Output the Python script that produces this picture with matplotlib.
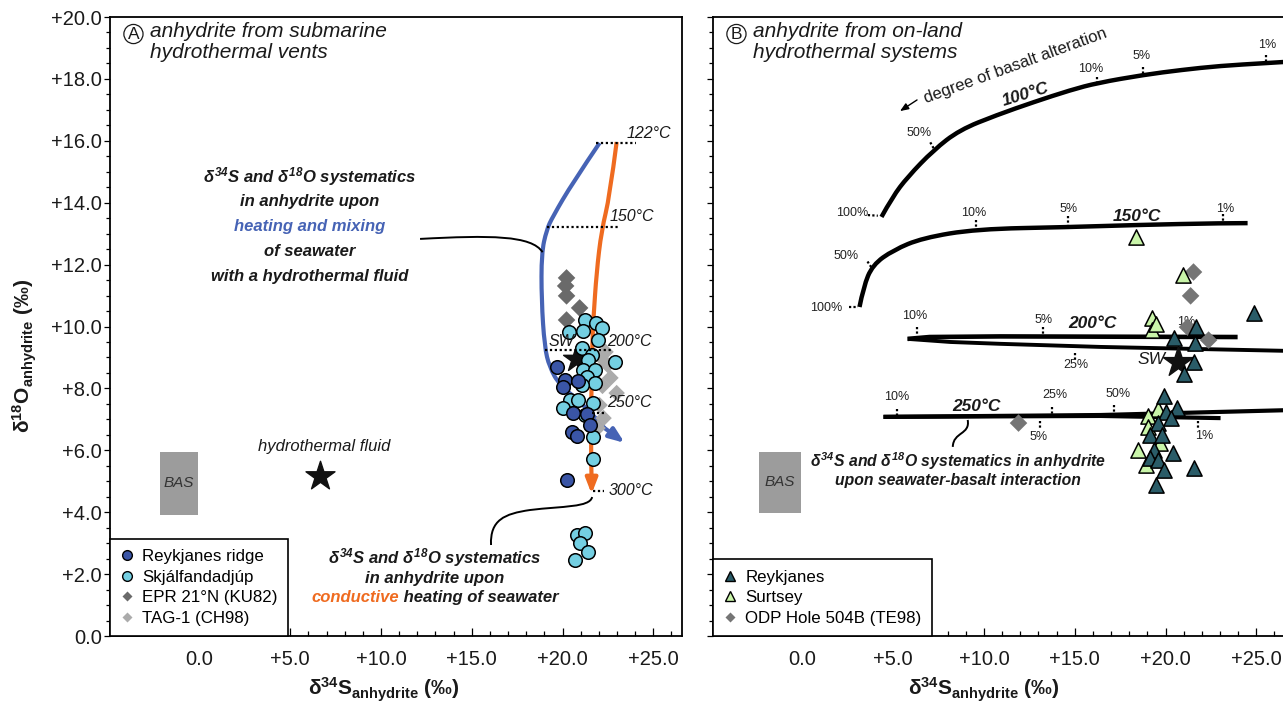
import matplotlib
matplotlib.use('Agg')
import matplotlib.pyplot as plt
from matplotlib.lines import Line2D
from matplotlib.path import Path
from matplotlib.patches import PathPatch, Rectangle
from matplotlib.ticker import FixedLocator, FuncFormatter, MultipleLocator

plt.rcParams['font.family'] = ['Liberation Sans', 'DejaVu Sans']
plt.rcParams['mathtext.fontset'] = 'custom'
plt.rcParams['mathtext.rm'] = 'Liberation Sans:bold:italic'
plt.rcParams['mathtext.it'] = 'Liberation Sans:bold:italic'
plt.rcParams['mathtext.bf'] = 'Liberation Sans:bold'

# ---------------- data : panel A ----------------
reyk_ridge_s = [19.72, 20.11, 20.83, 20.00, 20.55, 21.32, 21.49, 20.50, 20.77, 20.22]
reyk_ridge_o = [8.69, 8.27, 8.24, 8.05, 7.21, 7.17, 6.82, 6.59, 6.46, 5.04]
skjalf_s = [21.21, 21.87, 22.20, 20.33, 21.10, 21.93, 21.05, 21.60, 21.38, 22.87, 21.10, 21.76,
            21.32, 21.76, 21.05, 20.39, 20.83, 20.00, 21.65, 21.21, 21.65, 21.65, 20.77, 21.21,
            20.94, 21.38, 20.66]
skjalf_o = [10.21, 10.11, 9.95, 9.82, 9.85, 9.56, 9.31, 9.08, 8.92, 8.85, 8.59, 8.59,
            8.37, 8.17, 8.11, 7.63, 7.63, 7.37, 7.53, 7.14, 6.43, 5.72, 3.26, 3.33,
            3.00, 2.71, 2.46]
epr_s = [20.22, 20.17, 20.22, 20.94, 20.22]
epr_o = [11.57, 11.31, 10.99, 10.60, 10.21]
tag_s = [22.37, 22.48, 22.64, 22.20, 22.98, 22.04, 22.26, 21.93, 22.09]
tag_o = [9.18, 8.76, 8.34, 8.08, 7.85, 7.46, 7.04, 6.72, 9.02]
fluid_s, fluid_o = [6.64], [5.17]
swA_s, swA_o = [20.72], [8.95]
basA_s = [-2.18, -0.08]
basA_o = [3.91, 5.95]

blue_s = [22.04, 20.55, 19.45, 19.12, 18.84, 18.84, 19.01, 19.28, 19.83, 21.21, 22.31, 23.42]
blue_o = [15.93, 14.64, 13.54, 13.12, 12.37, 10.86, 9.34, 8.69, 8.11, 7.46, 6.72, 6.24]
orange_s = [22.98, 22.59, 22.15, 21.87, 21.71, 21.65, 21.54, 21.60, 21.60]
orange_o = [15.96, 14.18, 13.12, 11.73, 10.31, 9.79, 6.24, 5.04, 4.59]

tempA_labels = ['122°C', '150°C', '200°C', '250°C', '300°C']
tempA_o = [15.93, 13.21, 9.24, 7.21, 4.69]
tempA_s0 = [21.82, 19.17, 19.01, 21.60, 21.65]
tempA_s1 = [24.02, 23.09, 22.70, 22.42, 22.31]

# ---------------- data : panel B ----------------
reykB_s = [24.85, 21.65, 20.44, 21.60, 21.54, 20.99, 19.89, 20.61, 20.00, 20.28, 19.61, 19.12,
           19.83, 19.34, 20.39, 19.17, 19.61, 19.89, 21.54, 19.45]
reykB_o = [10.44, 9.98, 9.63, 9.47, 8.85, 8.47, 7.75, 7.37, 7.24, 7.04, 6.88, 6.49,
           6.49, 6.01, 5.91, 5.75, 5.69, 5.36, 5.43, 4.88]
surt_s = [18.35, 20.94, 19.28, 19.28, 19.50, 19.61, 19.01, 19.06, 19.72, 18.46, 18.90]
surt_o = [12.89, 11.66, 10.27, 9.89, 10.08, 7.33, 7.11, 6.75, 6.24, 6.01, 5.53]
odp_s = [11.90, 21.54, 21.38, 21.21, 22.37]
odp_o = [6.88, 11.76, 10.99, 9.98, 9.56]
swB_s, swB_o = [20.66], [8.85]
basB_s = [-2.40, -0.08]
basB_o = [3.97, 5.95]

c100_s = [4.35, 4.96, 5.79, 7.22, 8.65, 10.69, 12.73, 14.77, 16.25, 18.79, 20.88, 22.98, 25.51, 27.44]
c100_o = [13.54, 14.19, 14.83, 15.70, 16.35, 16.83, 17.25, 17.64, 17.87, 18.13, 18.29, 18.42, 18.51, 18.58]
c150_s = [3.14, 3.36, 3.86, 5.01, 6.61, 9.59, 14.60, 18.35, 23.14, 24.52]
c150_o = [10.63, 11.28, 11.99, 12.47, 12.86, 13.15, 13.21, 13.28, 13.34, 13.34]
c200u_s = [5.79, 7.00, 10.90, 23.97]
c200u_o = [9.60, 9.66, 9.68, 9.66]
c200l_s = [5.79, 8.15, 10.91, 16.42, 26.89]
c200l_o = [9.60, 9.50, 9.44, 9.34, 9.21]
c250u_s = [4.46, 16.42, 26.89]
c250u_o = [7.08, 7.14, 7.30]
c250l_s = [4.46, 16.42, 23.03]
c250l_o = [7.08, 7.11, 7.04]

x_major = [0, 5, 10, 15, 20, 25]

# colours
C_REYK = '#3a55a6'
C_SKJ = '#74cfe2'
C_EPR = '#6a6a6a'
C_TAG = '#ababab'
C_BLUE = '#4663b5'
C_ORANGE = '#ef6b20'
C_REYKB = '#2a5c68'
C_SURT = '#c9f5a9'
C_ODP = '#757575'
TXT = '#1a1a1a'

W, H = 1283, 708
fig = plt.figure(figsize=(W / 100, H / 100), dpi=100)


def rect(l, t, r, b):
    return [l / W, 1 - b / H, (r - l) / W, (b - t) / H]


def smooth_path(xs, ys):
    """Quadratic B-spline style path through the polyline's midpoints."""
    pts = list(zip(xs, ys))
    verts = [pts[0]]
    codes = [Path.MOVETO]
    for i in range(1, len(pts) - 1):
        mid = ((pts[i][0] + pts[i + 1][0]) / 2, (pts[i][1] + pts[i + 1][1]) / 2)
        if i == len(pts) - 2:
            mid = pts[i + 1]
        verts += [pts[i], mid]
        codes += [Path.CURVE3, Path.CURVE3]
    if len(pts) == 2:
        verts.append(pts[1])
        codes.append(Path.LINETO)
    return Path(verts, codes)


axA = fig.add_axes(rect(110, 17, 682, 636))
axB = fig.add_axes(rect(713, 17, 1285, 636))
fmt = FuncFormatter(lambda v, p: '0.0' if abs(v) < 1e-9 else f'+{v:.1f}')

for ax in (axA, axB):
    ax.set_xlim(-4.93, 26.58)
    ax.set_ylim(0, 20)
    ax.xaxis.set_major_locator(FixedLocator(x_major))
    ax.xaxis.set_minor_locator(MultipleLocator(1))
    ax.yaxis.set_major_locator(MultipleLocator(2))
    ax.yaxis.set_minor_locator(MultipleLocator(0.5))
    ax.xaxis.set_major_formatter(fmt)
    ax.yaxis.set_major_formatter(fmt)
    ax.tick_params(axis='x', which='major', direction='in', length=5.5, width=0.9,
                   pad=10, labelsize=14.5, labelcolor=TXT)
    ax.tick_params(axis='x', which='minor', direction='in', length=3.5, width=0.9)
    ax.tick_params(axis='y', which='major', direction='out', length=4.3, width=0.9,
                   pad=1.5, labelsize=14.5, labelcolor=TXT)
    ax.tick_params(axis='y', which='minor', direction='out', length=3, width=0.9)
    for s in ax.spines.values():
        s.set_linewidth(1.3)
axB.tick_params(axis='y', labelleft=False)

# axis labels
for xc in (384, 984):
    fig.text(xc / W, 1 - 690 / H, r'$\mathbf{\delta^{34}S_{anhydrite}}$ (‰)', fontsize=15,
             fontweight='bold', ha='center', va='center', color=TXT)
fig.text(25 / W, 1 - 356 / H, r'$\mathbf{\delta^{18}O_{anhydrite}}$ (‰)', fontsize=15,
         fontweight='bold', ha='center', va='center', rotation=90, color=TXT)

# titles
for ax, letter, txt in ((axA, 'A', 'anhydrite from submarine\nhydrothermal vents'),
                        (axB, 'B', 'anhydrite from on-land\nhydrothermal systems')):
    ax.text(0.041, 0.9725, letter, transform=ax.transAxes, fontsize=12.5, ha='center',
            va='center', color=TXT,
            bbox=dict(boxstyle='circle,pad=0.12', fc='white', ec=TXT, lw=0.9))
    ax.text(0.07, 0.992, txt, transform=ax.transAxes, fontsize=15, style='italic',
            ha='left', va='top', color=TXT, linespacing=1.12)

# ---------------- panel A drawing ----------------
axA.add_patch(Rectangle((basA_s[0], basA_o[0]), basA_s[1] - basA_s[0], basA_o[1] - basA_o[0],
                        fc='#9c9c9c', ec='none', zorder=2))
axA.text(sum(basA_s) / 2, sum(basA_o) / 2, 'BAS', style='italic', fontsize=11,
         ha='center', va='center', color='#333333', zorder=3)
axA.scatter(fluid_s, fluid_o, marker='*', s=480, c='#111111', zorder=4)
axA.text(6.86, 6.11, 'hydrothermal fluid', style='italic', fontsize=12, ha='center',
         va='center', color=TXT)

axA.add_patch(PathPatch(smooth_path(blue_s[:-1], blue_o[:-1]), fc='none', ec=C_BLUE, lw=3,
                        capstyle='butt', zorder=3))
axA.annotate('', xy=(blue_s[-1], blue_o[-1]), xytext=(blue_s[-2], blue_o[-2]),
             arrowprops=dict(arrowstyle='-|>,head_length=0.9,head_width=0.35', color=C_BLUE,
                             lw=3, shrinkA=0, shrinkB=0), zorder=3)
axA.add_patch(PathPatch(smooth_path(orange_s[:-1], orange_o[:-1]), fc='none', ec=C_ORANGE, lw=3,
                        capstyle='butt', zorder=3))
axA.annotate('', xy=(orange_s[-1], orange_o[-1]), xytext=(orange_s[-2], orange_o[-2]),
             arrowprops=dict(arrowstyle='-|>,head_length=0.9,head_width=0.35', color=C_ORANGE,
                             lw=3, shrinkA=0, shrinkB=0), zorder=3)

axA.scatter(tag_s, tag_o, marker='D', s=70, c=C_TAG, edgecolors='none', zorder=4)
axA.scatter(epr_s, epr_o, marker='D', s=80, c=C_EPR, edgecolors='none', zorder=4)
axA.scatter(swA_s, swA_o, marker='*', s=380, c='#111111', zorder=4)
axA.scatter(skjalf_s, skjalf_o, marker='o', s=95, c=C_SKJ, edgecolors='black', linewidths=1.1, zorder=5)
axA.scatter(reyk_ridge_s, reyk_ridge_o, marker='o', s=95, c=C_REYK, edgecolors='black',
            linewidths=1.1, zorder=6)

for lab, yv, x0, x1 in zip(tempA_labels, tempA_o, tempA_s0, tempA_s1):
    axA.plot([x0, x1], [yv, yv], color='black', ls=(0, (1, 1.2)), lw=1.6, zorder=7)
tempA_textpos = [(23.53, 16.25), (22.59, 13.54), (22.48, 9.50), (22.48, 7.53), (22.53, 4.69)]
for lab, (tx, ty) in zip(tempA_labels, tempA_textpos):
    axA.text(tx, ty, lab, style='italic', fontsize=11.5, ha='left', va='center', color=TXT, zorder=8)
axA.text(19.23, 9.50, 'SW', style='italic', fontsize=11.5, ha='left', va='center', color=TXT, zorder=8)

# annotation texts
topA = [(r'$\mathit{\delta^{34}}$S and $\mathit{\delta^{18}}$O systematics', TXT),
        ('in anhydrite upon', TXT), ('heating and mixing', C_BLUE),
        ('of seawater', TXT), ('with a hydrothermal fluid', TXT)]
topA_y = [14.86, 14.05, 13.24, 12.43, 11.60]
for (t, c), yv in zip(topA, topA_y):
    axA.text(6.06, yv, t, fontsize=12, fontweight='bold', style='italic', color=c,
             ha='center', va='center')
botA = [r'$\mathit{\delta^{34}}$S and $\mathit{\delta^{18}}$O systematics', 'in anhydrite upon']
botA_y = [2.52, 1.87]
for t, yv in zip(botA, botA_y):
    axA.text(12.97, yv, t, fontsize=12, fontweight='bold', style='italic', color=TXT,
             ha='center', va='center')
t1 = axA.text(6.18, 1.23, 'conductive', fontsize=12, fontweight='bold', style='italic',
              color=C_ORANGE, ha='left', va='center')
axA.annotate(' heating of seawater', xy=(1, 0.5), xycoords=t1, fontsize=12, fontweight='bold',
             style='italic', color=TXT, ha='left', va='center')

pA1 = Path([(12.15, 12.83), (16.0, 12.95), (18.3, 12.95), (18.9, 12.40)],
           [Path.MOVETO, Path.CURVE4, Path.CURVE4, Path.CURVE4])
axA.add_patch(PathPatch(pA1, fc='none', ec='black', lw=1.4, zorder=3))
pA2 = Path([(16.06, 2.94), (16.0, 3.75), (16.8, 3.95), (18.2, 4.07),
            (20.0, 4.2), (21.5, 4.15), (21.63, 4.49)],
           [Path.MOVETO, Path.CURVE4, Path.CURVE4, Path.CURVE4,
            Path.CURVE4, Path.CURVE4, Path.CURVE4])
axA.add_patch(PathPatch(pA2, fc='none', ec='black', lw=1.4, zorder=3))

leg_kw = dict(loc='lower left', bbox_to_anchor=(0, 0), borderaxespad=0, fontsize=12.2,
              frameon=True, fancybox=False, edgecolor='black', framealpha=1,
              handlelength=0.8, handletextpad=0.5, labelspacing=0.33, borderpad=0.6)
hA = [Line2D([], [], ls='', marker='o', ms=7, mfc=C_REYK, mec='black', mew=1),
      Line2D([], [], ls='', marker='o', ms=7, mfc=C_SKJ, mec='black', mew=1),
      Line2D([], [], ls='', marker='D', ms=5.5, mfc=C_EPR, mec='none'),
      Line2D([], [], ls='', marker='D', ms=5.5, mfc=C_TAG, mec='none')]
legA = axA.legend(hA, ['Reykjanes ridge', 'Skjálfandadjúp', 'EPR 21°N (KU82)', 'TAG-1 (CH98)'],
                  **leg_kw)
legA.get_frame().set_linewidth(1.2)
legA.set_zorder(10)

# ---------------- panel B drawing ----------------
axB.add_patch(Rectangle((basB_s[0], basB_o[0]), basB_s[1] - basB_s[0], basB_o[1] - basB_o[0],
                        fc='#9c9c9c', ec='none', zorder=2))
axB.text(sum(basB_s) / 2, sum(basB_o) / 2, 'BAS', style='italic', fontsize=11,
         ha='center', va='center', color='#333333', zorder=3)

for xs, ys, lw in ((c100_s, c100_o, 3.2), (c150_s, c150_o, 3.2)):
    axB.add_patch(PathPatch(smooth_path(xs, ys), fc='none', ec='black', lw=lw,
                            capstyle='butt', zorder=3))
for xs, ys, lw in ((c200u_s, c200u_o, 3.3), (c200l_s, c200l_o, 2.8),
                   (c250u_s, c250u_o, 3.0), (c250l_s, c250l_o, 3.0)):
    axB.plot(xs, ys, color='black', lw=lw, solid_capstyle='butt', zorder=3)

dot = dict(color='black', ls=(0, (1, 1)), lw=1.6, zorder=3)
marksB = [((3.60, 4.15), (13.60, 13.58)), ((7.04, 7.30), (15.95, 15.68)),
          ((16.25, 16.25), (18.05, 17.80)), ((18.76, 18.76), (18.37, 18.10)),
          ((25.54, 25.54), (18.76, 18.50)),
          ((2.56, 3.05), (10.63, 10.63)), ((3.58, 3.83), (12.10, 11.88)),
          ((9.56, 9.56), (13.43, 13.17)), ((14.60, 14.60), (13.58, 13.26)),
          ((23.14, 23.14), (13.62, 13.36)),
          ((6.29, 6.29), (10.00, 9.74)), ((13.23, 13.23), (10.00, 9.74)),
          ((15.0, 15.0), (9.15, 8.90)),
          ((5.18, 5.18), (7.34, 7.08)), ((13.73, 13.73), (7.40, 7.14)),
          ((17.17, 17.17), (7.45, 7.20)), ((13.06, 13.06), (6.94, 6.68)),
          ((21.8, 21.8), (6.94, 6.68))]
for xs, ys in marksB:
    axB.plot(xs, ys, **dot)

pct = [('100%', 2.73, 13.67), ('50%', 6.42, 16.25), ('10%', 15.85, 18.32), ('5%', 18.70, 18.74),
       ('1%', 25.58, 19.10),
       ('100%', 1.29, 10.60), ('50%', 2.40, 12.28), ('10%', 9.44, 13.67), ('5%', 14.68, 13.80),
       ('1%', 23.26, 13.80),
       ('10%', 6.20, 10.34), ('5%', 13.30, 10.21), ('25%', 15.07, 8.76), ('1%', 21.13, 10.15),
       ('10%', 5.21, 7.72), ('25%', 13.91, 7.79), ('5%', 13.03, 6.43), ('50%', 17.38, 7.82),
       ('1%', 22.12, 6.46)]
for t, xv, yv in pct:
    axB.text(xv, yv, t, fontsize=9, ha='center', va='center', color='#222222', zorder=3)

tb = dict(fontsize=12.5, fontweight='bold', style='italic', color=TXT, ha='center', va='center')
axB.text(12.3, 17.48, '100°C', rotation=17, **tb)
axB.text(18.43, 13.57, '150°C', **tb)
axB.text(16.0, 10.11, '200°C', **tb)
axB.text(9.61, 7.43, '250°C', **tb)

axB.text(6.80, 17.22, 'degree of basalt alteration', rotation=20, rotation_mode='anchor',
         fontsize=12, ha='left', va='baseline', color=TXT)
axB.annotate('', xy=(5.37, 16.96), xytext=(6.31, 17.32),
             arrowprops=dict(arrowstyle='-|>,head_length=0.5,head_width=0.2', color='black',
                             lw=1, shrinkA=0, shrinkB=0))

axB.scatter(odp_s, odp_o, marker='D', s=80, c=C_ODP, edgecolors='none', zorder=4)
axB.scatter(swB_s, swB_o, marker='*', s=520, c='#111111', zorder=4)
axB.scatter(surt_s, surt_o, marker='^', s=120, c=C_SURT, edgecolors='black', linewidths=1.1, zorder=5)
axB.scatter(reykB_s, reykB_o, marker='^', s=120, c=C_REYKB, edgecolors='black', linewidths=1.1, zorder=6)
axB.text(19.2, 8.92, 'SW', style='italic', fontsize=12.5, ha='center', va='center', color=TXT, zorder=7)

botB = [r'$\mathit{\delta^{34}}$S and $\mathit{\delta^{18}}$O systematics in anhydrite',
        'upon seawater-basalt interaction']
botB_y = [5.65, 5.01]
for t, yv in zip(botB, botB_y):
    axB.text(8.57, yv, t, fontsize=11.3, fontweight='bold', style='italic', color=TXT,
             ha='center', va='center', zorder=7)
pB = Path([(9.10, 6.98), (9.25, 6.5), (8.3, 6.6), (8.28, 6.11)],
          [Path.MOVETO, Path.CURVE4, Path.CURVE4, Path.CURVE4])
axB.add_patch(PathPatch(pB, fc='none', ec='black', lw=1.4, zorder=3))

hB = [Line2D([], [], ls='', marker='^', ms=7, mfc=C_REYKB, mec='black', mew=1),
      Line2D([], [], ls='', marker='^', ms=7, mfc=C_SURT, mec='black', mew=1),
      Line2D([], [], ls='', marker='D', ms=5.5, mfc=C_ODP, mec='none')]
legB = axB.legend(hB, ['Reykjanes', 'Surtsey', 'ODP Hole 504B (TE98)'], **leg_kw)
legB.get_frame().set_linewidth(1.2)
legB.set_zorder(10)

fig.savefig('out.png', dpi=100)
